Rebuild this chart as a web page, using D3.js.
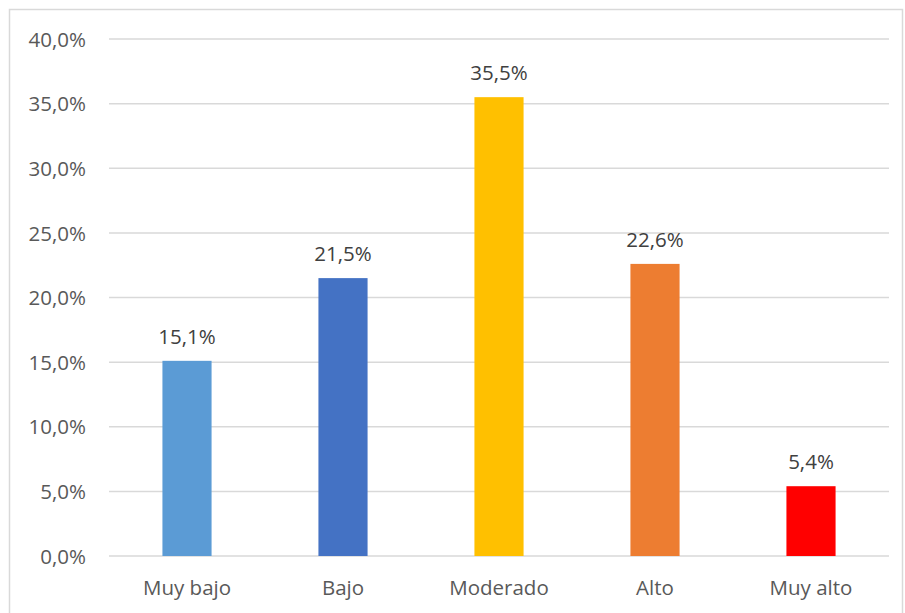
<!DOCTYPE html>
<html><head><meta charset="utf-8">
<script src="https://cdn.jsdelivr.net/npm/d3@7"></script>
<style>body{margin:0;background:#fff;} svg{display:block;}</style>
</head><body>
<svg id="c" width="905" height="613"></svg>
<script>
const categories = ["Muy bajo","Bajo","Moderado","Alto","Muy alto"];
const values = [15.1, 21.5, 35.5, 22.6, 5.4];
const colors = ["#5B9BD5","#4472C4","#FFC000","#ED7D31","#FF0000"];
const yTicks = [0,5,10,15,20,25,30,35,40];

const svg = d3.select("#c");
const font = "'Open Sans', 'Noto Sans', sans-serif";
const fs = 20.5;
svg.append("rect").attr("x",9.5).attr("y",9.5).attr("width",893).attr("height",620)
  .attr("fill","#fff").attr("stroke","#D9D9D9").attr("stroke-width",1.5);

const x = d3.scaleBand().domain(categories).range([109,889]).paddingInner(0.685).paddingOuter(0.3425);
const y = d3.scaleLinear().domain([0,40]).range([556,39]);
const fmt = v => d3.format(".1f")(v).replace(".",",") + "%";

const g = svg.append("g");
g.selectAll("line.grid").data(yTicks).enter().append("line")
  .attr("x1",109).attr("x2",889).attr("y1",d=>y(d)).attr("y2",d=>y(d))
  .attr("stroke","#D9D9D9").attr("stroke-width",1.5);

const yAxis = d3.axisLeft(y).tickValues(yTicks).tickFormat(fmt).tickSize(0).tickPadding(0);
const ya = svg.append("g").attr("transform","translate(86,0)").call(yAxis);
ya.select(".domain").remove();
ya.selectAll("text").attr("font-family",font).attr("font-size",fs).attr("fill","#595959").attr("dy","0.35em");

g.selectAll("rect.bar").data(values).enter().append("rect")
  .attr("x",(d,i)=>x(categories[i])).attr("width",x.bandwidth())
  .attr("y",d=>y(d)).attr("height",d=>y(0)-y(d))
  .attr("fill",(d,i)=>colors[i]);

g.selectAll("text.lbl").data(values).enter().append("text")
  .attr("x",(d,i)=>x(categories[i])+x.bandwidth()/2).attr("y",d=>y(d)-17)
  .attr("text-anchor","middle").attr("font-family",font).attr("font-size",fs).attr("fill","#404040")
  .text(fmt);

const xAxis = d3.axisBottom(x).tickSize(0).tickPadding(0);
const xa = svg.append("g").attr("transform","translate(0,556)").call(xAxis);
xa.select(".domain").remove();
xa.selectAll("text").attr("font-family",font).attr("font-size",fs).attr("fill","#595959").attr("dy","0").attr("y",39);
</script>
</body></html>
